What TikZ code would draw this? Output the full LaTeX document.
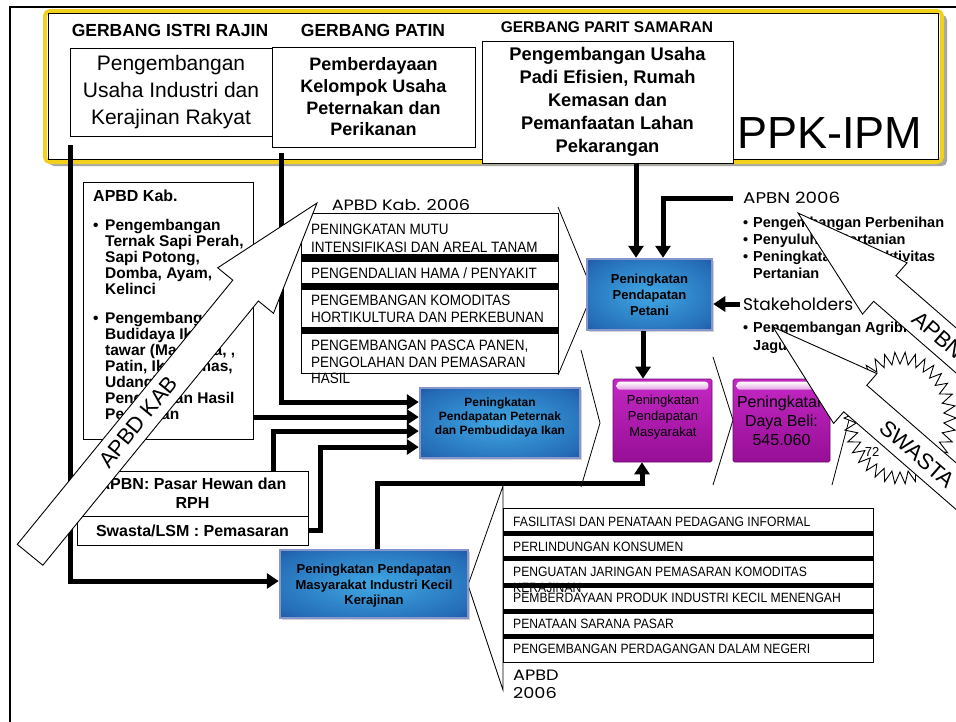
\documentclass[tikz,border=0pt]{standalone}
\usepackage{fontspec}
\setmainfont{Liberation Sans}
\newfontfamily\nar[FakeStretch=0.9]{Liberation Sans}
\newfontfamily\goth{Poppins}
\newfontfamily\gothw[FakeStretch=1.18]{Poppins}
\usetikzlibrary{arrows.meta,shadows}

\definecolor{gold}{RGB}{242,208,30}
\definecolor{bluein}{RGB}{64,168,228}
\definecolor{bluemid}{RGB}{36,108,182}
\definecolor{blueout}{RGB}{22,42,112}
\definecolor{bluebd}{RGB}{135,150,205}
\definecolor{magtop}{RGB}{196,40,196}
\definecolor{magbot}{RGB}{150,14,150}
\definecolor{magbd}{RGB}{110,10,110}

\pgfdeclareradialshading{boxglow}{\pgfpoint{0bp}{0bp}}{color(0bp)=(bluein); color(30bp)=(bluemid); color(50bp)=(blueout); color(72bp)=(blueout)}

\newcommand{\fs}[2]{\fontsize{#1}{#2}\selectfont}

\begin{document}
\begin{tikzpicture}[x=1pt,y=-1pt,
  box/.style={draw, line width=1, fill=white, inner sep=0, align=center},
  bluebox/.style={draw=bluebd, line width=2.5, shading=boxglow,
    inner sep=0, drop shadow={shadow xshift=1.5pt,shadow yshift=-1.5pt,opacity=0.35}},
  magbox/.style={draw=magbd, line width=0.6, top color=magtop, bottom color=magbot,
    inner sep=0, rounded corners=1.5},
  conn/.style={line width=5, -{Triangle[length=12pt,width=15pt]}},
  chev/.style={line width=0.8},
  blockarrow/.style={draw, fill=white, line width=0.9, line join=miter},
  lrow/.style={anchor=base west, inner sep=0, font=\nar\fs{15}{15}},
  srow/.style={anchor=base west, inner sep=0, font=\nar\fs{13.5}{13.5}},
  btxt/.style={anchor=base west, inner sep=0, font=\bfseries\fs{15.5}{16}},
  atxt/.style={anchor=base west, inner sep=0, font=\bfseries\fs{14.5}{17}},
  gothlab/.style={inner sep=0, font=\gothw\fs{15}{15}}]

\useasboundingbox (0,0) rectangle (956,721);
\clip (0,0) rectangle (956,721);
\fill[white] (0,0) rectangle (956,721);

% slide frame
\draw[line width=1.5] (960,7) -- (10,7) -- (10,730);

% PPK-IPM banner
\fill[black!35, rounded corners=5] (49,15) rectangle (947,166);
\draw[line width=4, draw=gold, fill=white, rounded corners=5] (45,11) rectangle (942,162);
\draw[line width=0.9] (48.5,13.5) rectangle (938.5,159);

\node[font=\bfseries\fs{17.5}{20}] (h1) at (170,30) {GERBANG ISTRI RAJIN};
\node[font=\bfseries\fs{17.5}{20}] (h2) at (373,30) {GERBANG PATIN};
\node[font=\bfseries\fs{15.5}{18}] (h3) at (607,27) {GERBANG PARIT SAMARAN};

\node[box, minimum width=202, minimum height=88, font=\fs{21}{27}] (b1) at (171,92)
  {Pengembangan\\Usaha Industri dan\\Kerajinan Rakyat};
\node[box, minimum width=203, minimum height=100, font=\bfseries\fs{18}{21.7}] (b2) at (373.5,97)
  {Pemberdayaan\\Kelompok Usaha\\Peternakan dan\\Perikanan};
\node[box, minimum width=251, minimum height=122, font=\bfseries\fs{18.3}{23}] (b3) at (607.5,102)
  {Pengembangan Usaha\\Padi Efisien, Rumah\\Kemasan dan\\Pemanfaatan Lahan\\Pekarangan};
\node[anchor=base west, inner sep=0, font=\fs{45}{45}] (ppk) at (737,148) {PPK-IPM};

% APBD Kab. programme box
\node[box, minimum width=170, minimum height=257] (apbd) at (168,310.5) {};
\node[anchor=base west, inner sep=0, font=\bfseries\fs{16}{16}] (apbdh) at (93,201.5) {APBD Kab.};
\node[btxt] (bu1) at (93,230) {•};
\foreach \t [count=\i] in {Pengembangan, {Ternak Sapi Perah,}, {Sapi Potong,}, {Domba, Ayam,}, Kelinci}
  \node[btxt] (pa\i) at (105,{214+16*\i}) {\t};
\node[btxt] (bu2) at (93,323) {•};
\foreach \t [count=\i] in {Pengembangan, Budidaya Ikan, {tawar (Mas, Nila, ,}, {Patin, Ikan Emas,}, {Udang),}, Pengolahan Hasil, Perikanan}
  \node[btxt] (pb\i) at (105,{307+16*\i}) {\t};

% upper programme list with its chevron
\node[gothlab] (l1lab) at (401,205) {APBD Kab. 2006};
\node[draw, line width=0.8, fill=white, minimum width=257, minimum height=160, inner sep=0] (list1) at (429.5,293) {};
\fill (301,254) rectangle (558,261.5);
\fill (301,283) rectangle (558,290);
\fill (301,327) rectangle (558,334);
\node[lrow] (r1a) at (311,234.5) {PENINGKATAN MUTU};
\node[lrow] (r1b) at (311,252) {INTENSIFIKASI DAN AREAL TANAM};
\node[lrow] (r2)  at (311,278.5) {PENGENDALIAN HAMA / PENYAKIT};
\node[lrow] (r3a) at (311,305.5) {PENGEMBANGAN KOMODITAS};
\node[lrow] (r3b) at (311,322.5) {HORTIKULTURA DAN PERKEBUNAN};
\node[lrow] (r4a) at (311,350.5) {PENGEMBANGAN PASCA PANEN,};
\node[lrow] (r4b) at (311,367.5) {PENGOLAHAN DAN PEMASARAN};
\node[lrow] (r4c) at (311,383.5) {HASIL};
\coordinate (c1t) at (558,207); \coordinate (c1p) at (593,292); \coordinate (c1b) at (558,375);
\draw[chev] (c1t) -- (c1p) -- (c1b);

% chevrons between the result boxes
\coordinate (c2t) at (581,350); \coordinate (c2p) at (600,423); \coordinate (c2b) at (581,487);
\draw[chev] (c2t) -- (c2p) -- (c2b);
\coordinate (c3t) at (713,357); \coordinate (c3p) at (733,420); \coordinate (c3b) at (713,485);
\draw[chev] (c3t) -- (c3p) -- (c3b);
\coordinate (c4t) at (832,357); \coordinate (c4p) at (849,420); \coordinate (c4b) at (832,485);
\draw[chev] (c4t) -- (c4p) -- (c4b);

% lower programme list with its chevron
\coordinate (c5t) at (503,486); \coordinate (c5p) at (468,585); \coordinate (c5b) at (503,690);
\draw[chev] (c5t) -- (c5p) -- (c5b) -- cycle;
\node[draw, line width=0.8, fill=white, minimum width=370, minimum height=154, inner sep=0] (list2) at (688,585) {};
\foreach \c in {533.5,558.5,585,611,636}
  \fill (503,\c-2.5) rectangle (873,\c+2.5);
\node[srow] (s1) at (513,526.7) {FASILITASI DAN PENATAAN PEDAGANG INFORMAL};
\node[srow] (s2) at (513,551.7) {PERLINDUNGAN KONSUMEN};
\node[srow] (s3) at (513,576.7) {PENGUATAN JARINGAN PEMASARAN KOMODITAS};
\node[srow] (s3b) at (513,592) {KERAJINAN};
\node[srow] (s4) at (513,602.7) {PEMBERDAYAAN PRODUK INDUSTRI KECIL MENENGAH};
\node[srow] (s5) at (513,628.7) {PENATAAN SARANA PASAR};
\node[srow] (s6) at (513,653.7) {PENGEMBANGAN PERDAGANGAN DALAM NEGERI};
\node[gothlab, anchor=base west] (l2a) at (513,680) {APBD};
\node[gothlab, anchor=base west] (l2b) at (513,698) {2006};

% result boxes
\node[bluebox, minimum width=125, minimum height=71] (petani) at (649.5,294.5) {};
\node[font=\bfseries\fs{13}{16}, align=center] (petanit) at (649.5,295) {Peningkatan\\Pendapatan\\Petani};
\node[bluebox, minimum width=160, minimum height=70] (ternak) at (500,423) {};
\node[font=\bfseries\fs{12}{14}, align=center] (ternakt) at (500,417) {Peningkatan\\Pendapatan Peternak\\dan Pembudidaya Ikan};
\node[bluebox, minimum width=188, minimum height=68] (industri) at (374,584) {};
\node[font=\bfseries\fs{13}{15.5}, align=center] (industrit) at (374,586) {Peningkatan Pendapatan\\Masyarakat Industri Kecil\\Kerajinan};

\node[magbox, minimum width=99, minimum height=83] (masy) at (662.5,420.5) {};
\node[magbox, minimum width=97, minimum height=83] (daya) at (781.5,420.5) {};
\foreach \b in {masy,daya}
  \shade[top color=white, bottom color=magtop!45!white, rounded corners=3]
    ([xshift=4pt,yshift=-3pt]\b.north west) rectangle ([xshift=-4pt,yshift=-11pt]\b.north east);
\node[font=\fs{13}{16}, align=center] (masyt) at (663,417) {Peningkatan\\Pendapatan\\Masyarakat};
\node[font=\fs{16}{19}, align=center] (dayat) at (781.5,421) {Peningkatan\\Daya Beli:\\545.060};

% funding boxes
\node[box, line width=0.8, minimum width=231, minimum height=45, font=\bfseries\fs{16}{19}] (pasar) at (192.5,493.5) {APBN: Pasar Hewan dan\\RPH};
\node[box, line width=0.8, minimum width=231, minimum height=29, font=\bfseries\fs{16}{19}] (swasta) at (192.5,530.5) {Swasta/LSM : Pemasaran};

% APBN and stakeholder notes
\node[inner sep=0, anchor=west, font=\gothw\fs{15.5}{15.5}] (apbnl) at (743,198) {APBN 2006};
\node[atxt] (ab0) at (743,227) {•};
\node[atxt] (ab1) at (753,227) {Pengembangan Perbenihan};
\node[atxt] (ac0) at (743,244) {•};
\node[atxt] (ac1) at (753,244) {Penyuluhan Pertanian};
\node[atxt] (ad0) at (743,261) {•};
\node[atxt] (ad1) at (753,261) {Peningkatan Produktivitas};
\node[atxt] (ad2) at (753,278) {Pertanian};
\node[inner sep=0, anchor=west, font=\goth\fs{17}{17}] (stake) at (743,304) {Stakeholders};
\node[atxt] (ae0) at (743,332.5) {•};
\node[atxt] (ae1) at (753,332.5) {Pengembangan Agribisnis};
\node[atxt] (ae2) at (753,350.5) {Jagung};

% connectors
\coordinate (as) at (70,145);
\coordinate (bs) at (281,153);
\draw[conn] (as) |- ([yshift=3pt]industri.west);
\draw[conn] (bs) |- ([yshift=21pt]ternak.west);
\draw[conn] ([yshift=6pt]ternak.west -| apbd.east) -- ([yshift=6pt]ternak.west);
\draw[conn] ([xshift=80.5pt]pasar.north) |- ([yshift=-8pt]ternak.west);
\draw[conn] (swasta.east) -- ++(12,0) |- ([yshift=-24pt]ternak.west);
\draw[conn] ([xshift=28.5pt]b3.south) -- ([xshift=28.5pt]b3.south |- petani.north);
\draw[conn] ([xshift=-10pt]apbnl.west) -| ([xshift=13.5pt]petani.north);
\draw[conn] ([xshift=-3pt]stake.west) -- (stake.west -| petani.east);
\draw[conn] ([xshift=-6.5pt]petani.south) -- ([xshift=-6.5pt]petani.south |- masy.north);
\draw[conn] ([xshift=3pt]industri.north) -- ++(0,-65) -| ([xshift=-20.5pt]masy.south);

% burst behind the private-sector arrow
\begin{scope}[shift={(900,418)}]
  \draw[blockarrow] (56,0) \foreach \i in {1,...,67}
    { -- ({(50+6*cos(\i*180))*cos(\i*5.294118)}, {(60+6*cos(\i*180))*sin(\i*5.294118)}) } -- cycle;
\end{scope}
\node[font=\fs{13}{13}] (burst) at (872,452) {72};

% funding block arrows
\begin{scope}[shift={(317,203)}, rotate=50.8]
  \draw[blockarrow] (0,0) -- (-113,36) -- (-113,16.5) -- (-454,16.5) -- (-454,-16.5)
    -- (-113,-16.5) -- (-113,-36) -- cycle;
\end{scope}
\node[rotate=50.8, font=\fs{22}{22}] (kab) at (138,422) {APBD KAB};

\begin{scope}[shift={(798,213)}, rotate=139]
  \draw[blockarrow] (0,0) -- (-115,34) -- (-115,17) -- (-500,17) -- (-500,-17)
    -- (-115,-17) -- (-115,-34) -- cycle;
\end{scope}
\node[rotate=-41, font=\fs{22}{22}] (apbnarrow) at (938,335) {APBN};

\begin{scope}[shift={(773,327)}, rotate=139]
  \draw[blockarrow] (0,0) -- (-109,33) -- (-109,17.6) -- (-500,17.6) -- (-500,-17.6)
    -- (-109,-17.6) -- (-109,-33) -- cycle;
\end{scope}
\node[rotate=-41, font=\fs{22}{22}] (swastaarrow) at (917,454) {SWASTA};

\end{tikzpicture}
\end{document}
